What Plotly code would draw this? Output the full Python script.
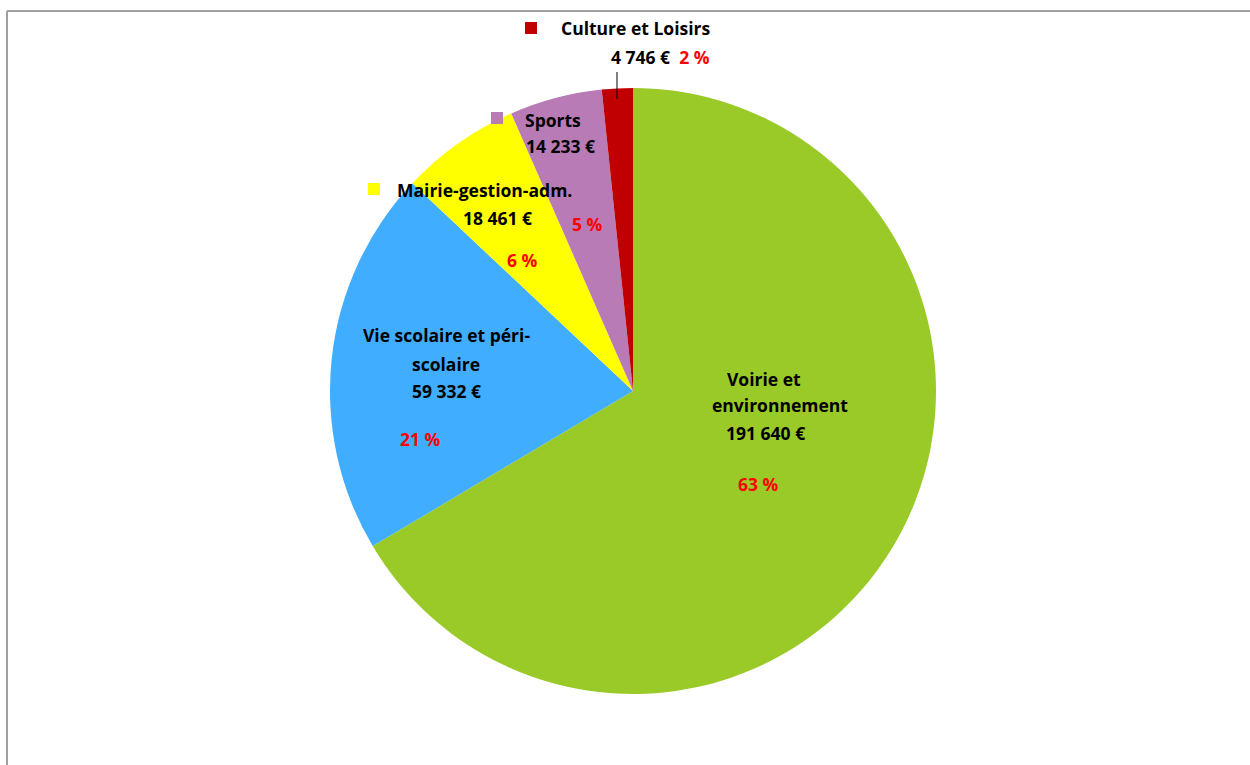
import plotly.graph_objects as go

categories = ["Voirie et environnement", "Vie scolaire et péri-scolaire", "Mairie-gestion-adm.", "Sports", "Culture et Loisirs"]
values = [191640, 59332, 18461, 14233, 4746]
value_labels = ["191 640 €", "59 332 €", "18 461 €", "14 233 €", "4 746 €"]
pct_labels = ["63 %", "21 %", "6 %", "5 %", "2 %"]
colors = ["#9ACA27", "#40ADFF", "#FFFF00", "#B87BB6", "#C00000"]

W, H = 1250, 765
cx, cy, r = 633, 391, 303

def px(x):
    return x / W

def py(y):
    return 1 - y / H

fig = go.Figure(go.Pie(
    labels=categories, values=values, sort=False, direction="clockwise", rotation=0,
    marker=dict(colors=colors, line=dict(width=0)),
    textinfo="none", hoverinfo="label+value+percent", showlegend=False,
    domain=dict(x=[px(cx - r), px(cx + r)], y=[py(cy + r), py(cy - r)]),
))

FONT = "'Open Sans', sans-serif"
FS = 17.5
anns = []
shapes = []

def text(x, y, s, color="black"):
    anns.append(dict(x=px(x), y=py(y), xref="paper", yref="paper", text="<b>" + s + "</b>",
                     showarrow=False, xanchor="center", yanchor="middle",
                     font=dict(family=FONT, size=FS, color=color)))

def square(x, y, color, s=12):
    shapes.append(dict(type="rect", xref="paper", yref="paper",
                       x0=px(x - s / 2), x1=px(x + s / 2), y0=py(y + s / 2), y1=py(y - s / 2),
                       fillcolor=color, line=dict(width=0)))

# Culture et Loisirs
square(531, 28, colors[4])
text(635, 28, categories[4])
anns.append(dict(x=px(660), y=py(57), xref="paper", yref="paper",
                 text="<b>" + value_labels[4] + "</b>  <b><span style='color:#FF0000'>" + pct_labels[4] + "</span></b>",
                 showarrow=False, xanchor="center", yanchor="middle",
                 font=dict(family=FONT, size=FS, color="black")))
shapes.append(dict(type="line", xref="paper", yref="paper", x0=px(617), x1=px(617), y0=py(72), y1=py(99),
                   line=dict(color="black", width=1)))

# Sports
square(497, 118, colors[3])
text(553, 120, categories[3])
text(560, 146, value_labels[3])
text(587, 224, pct_labels[3], "#FF0000")

# Mairie
square(374, 189, colors[2])
text(484, 190, categories[2])
text(497, 218, value_labels[2])
text(522, 260, pct_labels[2], "#FF0000")

# Vie scolaire
text(446, 335, "Vie scolaire et péri-")
text(446, 364, "scolaire")
text(446, 391, value_labels[1])
text(420, 439, pct_labels[1], "#FF0000")

# Voirie
text(764, 379, "Voirie et")
text(780, 405, "environnement")
text(765, 433, value_labels[0])
text(758, 484, pct_labels[0], "#FF0000")

# chart frame
shapes.append(dict(type="line", xref="paper", yref="paper", x0=px(7), x1=px(1250), y0=py(11), y1=py(11),
                   line=dict(color="#A0A0A0", width=2)))
shapes.append(dict(type="line", xref="paper", yref="paper", x0=px(7), x1=px(7), y0=py(11), y1=py(765),
                   line=dict(color="#A0A0A0", width=2)))

fig.update_layout(width=W, height=H, margin=dict(l=0, r=0, t=0, b=0),
                  paper_bgcolor="white", plot_bgcolor="white",
                  annotations=anns, shapes=shapes)

fig.write_html("out.html", config={"displayModeBar": False},
               post_script="document.body.style.margin='0px';")
